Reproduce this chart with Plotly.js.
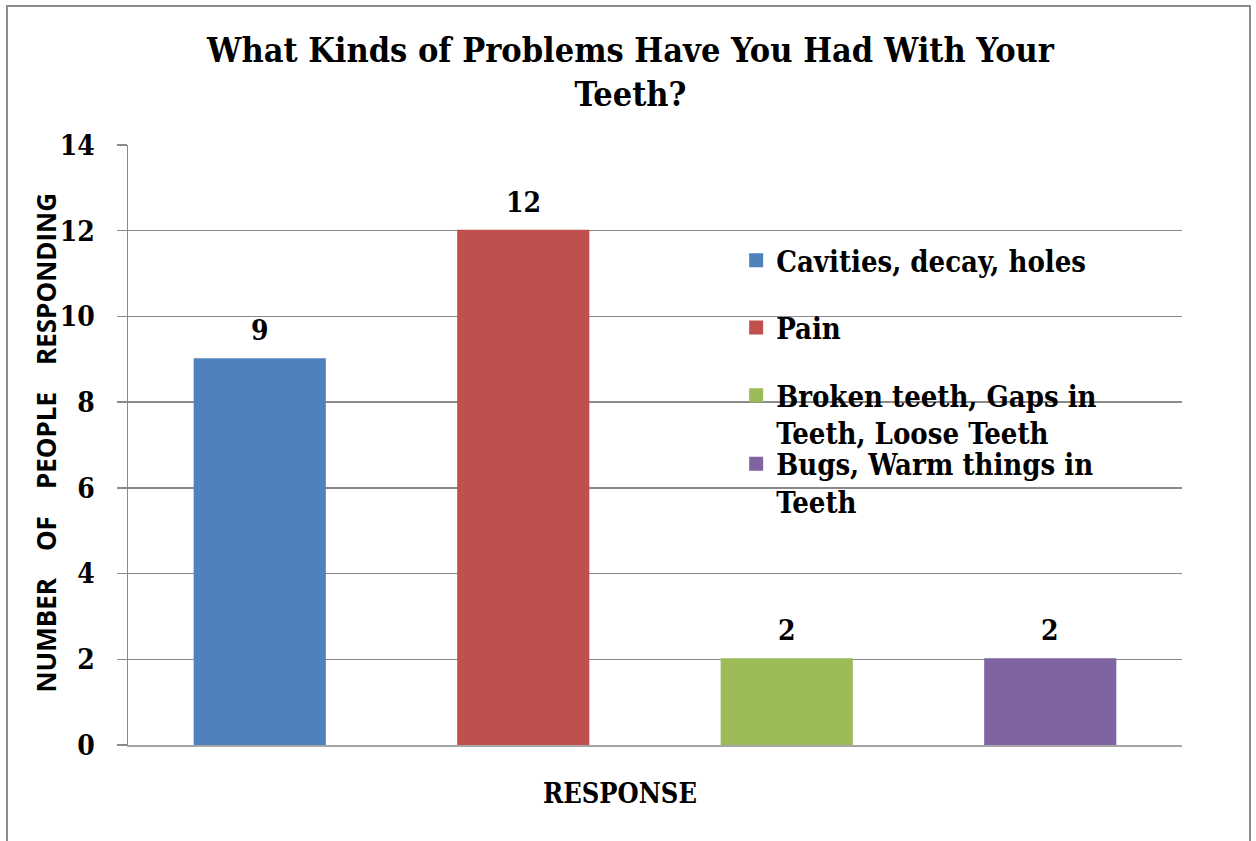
<!DOCTYPE html>
<html>
<head>
<meta charset="utf-8">
<script src="https://cdn.plot.ly/plotly-3.0.1.min.js"></script>
<style>
  html, body { margin: 0; padding: 0; background: #ffffff; }
  #chart { position: absolute; left: 0; top: 0; width: 1256px; height: 841px; }
  #frame { position: absolute; left: 6px; top: 5px; width: 1241px; height: 860px;
           border: 2px solid #8c8c8c; pointer-events: none; }
</style>
</head>
<body>
<div id="chart"></div>
<div id="frame"></div>
<script>
// Survey answers: kinds of problems people have had with their teeth
const categories = [
  "Cavities, decay, holes",
  "Pain",
  "Broken teeth, Gaps in Teeth, Loose Teeth",
  "Bugs, Warm things in Teeth"
];
const legendLabels = [
  "Cavities, decay, holes",
  "Pain",
  "Broken teeth, Gaps in<br>Teeth, Loose Teeth",
  "Bugs, Warm things in<br>Teeth"
];
const counts = [9, 12, 2, 2];
const barColors = ["#4F81BD", "#C0504D", "#9BBB59", "#8064A2"];
const yTicks = [0, 2, 4, 6, 8, 10, 12, 14];

const serif = '"DejaVu Serif Condensed", "DejaVu Serif", serif';
const sans = '"Open Sans", Lato, sans-serif';
const legendIds = ["legend", "legend2", "legend3", "legend4"];
const legendTop = [0.85, 0.738, 0.625, 0.511];
const gap = "&nbsp;&nbsp;&nbsp;&nbsp;";

const traces = categories.map((cat, i) => ({
  type: "bar",
  x: [cat],
  y: [counts[i]],
  name: legendLabels[i],
  legend: legendIds[i],
  marker: { color: barColors[i], line: { color: barColors[i], width: 2 } },
  hoverinfo: "x+y"
}));

// value labels sitting above each bar
const annotations = categories.map((cat, i) => ({
  x: cat,
  y: counts[i],
  xref: "x",
  yref: "y",
  text: String(counts[i]),
  showarrow: false,
  yanchor: "bottom",
  yshift: 10,
  font: { family: serif, size: 28, color: "#000000", weight: "bold" }
}));

// horizontal axis caption
annotations.push({
  x: 0.467,
  y: -0.08,
  xref: "paper",
  yref: "paper",
  text: "RESPONSE",
  showarrow: false,
  xanchor: "center",
  yanchor: "middle",
  font: { family: serif, size: 27, color: "#000000", weight: "bold" }
});

// vertical axis caption
annotations.push({
  x: -0.0778,
  y: 0.504,
  xref: "paper",
  yref: "paper",
  text: "NUMBER" + gap + "OF" + gap + "PEOPLE" + gap + "RESPONDING",
  textangle: -90,
  showarrow: false,
  xanchor: "center",
  yanchor: "middle",
  font: { family: sans, size: 26, color: "#000000", weight: "bold" }
});

const layout = {
  width: 1256,
  height: 841,
  paper_bgcolor: "#ffffff",
  plot_bgcolor: "#ffffff",
  margin: { l: 128, r: 74, t: 145, b: 96 },
  barmode: "overlay",
  bargap: 0.506,
  title: {
    text: "What Kinds of Problems Have You Had With Your<br>Teeth?",
    font: { family: serif, size: 34, color: "#000000", weight: "bold" },
    x: 0.502,
    xanchor: "center",
    xref: "container",
    y: 0.926,
    yanchor: "top",
    yref: "container"
  },
  xaxis: {
    type: "category",
    categoryorder: "array",
    categoryarray: categories,
    showticklabels: false,
    ticks: "",
    showgrid: false,
    showline: true,
    linecolor: "#a6a6a6",
    linewidth: 2,
    zeroline: false,
    fixedrange: true
  },
  yaxis: {
    range: [0, 14],
    tickvals: yTicks,
    ticktext: yTicks.map(String),
    ticks: "outside",
    ticklen: 10,
    tickwidth: 1.5,
    tickcolor: "#8a8a8a",
    ticklabelstandoff: 16,
    tickfont: { family: serif, size: 28, color: "#000000", weight: "bold" },
    showgrid: true,
    gridcolor: "#8a8a8a",
    gridwidth: 1.5,
    showline: true,
    linecolor: "#8a8a8a",
    linewidth: 1.5,
    zeroline: false,
    fixedrange: true
  },
  annotations: annotations,
  showlegend: true
};

legendIds.forEach((id, i) => {
  layout[id] = {
    x: 0.577,
    xanchor: "left",
    y: legendTop[i],
    yanchor: "top",
    valign: "top",
    bgcolor: "rgba(0,0,0,0)",
    borderwidth: 0,
    itemclick: false,
    itemdoubleclick: false,
    font: { family: serif, size: 29, color: "#000000", weight: "bold" }
  };
});

Plotly.newPlot("chart", traces, layout, { displayModeBar: false, staticPlot: true });
</script>
</body>
</html>
